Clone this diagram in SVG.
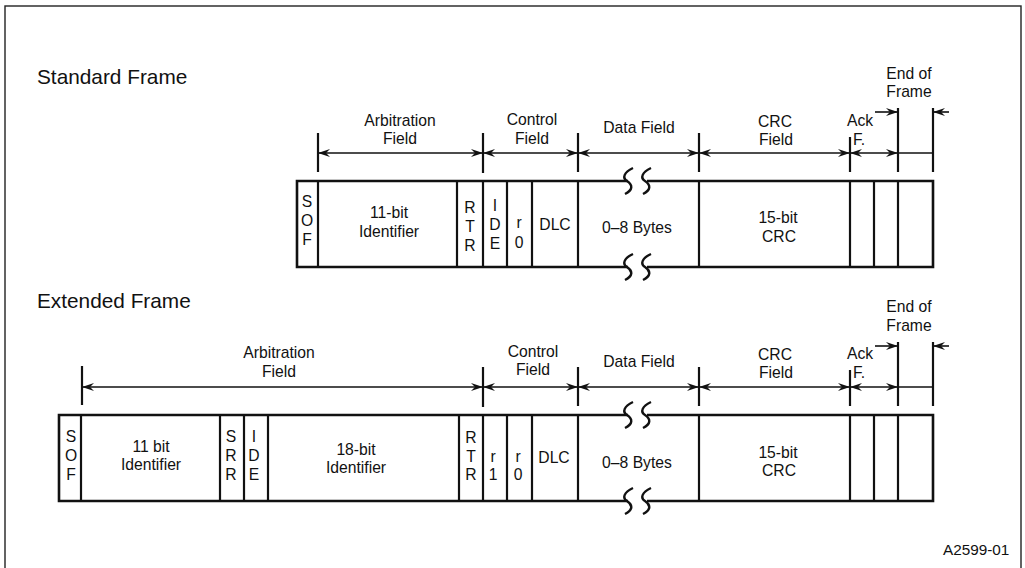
<svg xmlns="http://www.w3.org/2000/svg" width="1025" height="568" viewBox="0 0 1025 568">
<defs>
<style>
text{font-family:"Liberation Sans",Arial,Helvetica,sans-serif;fill:#111;font-size:15.7px;text-anchor:middle}
.title{font-size:20.8px;text-anchor:start}
.st{text-anchor:start}
.box{fill:none;stroke:#111;stroke-width:2.6}
.div{stroke:#111;stroke-width:2.2}
.tick{stroke:#111;stroke-width:2.2}
.arr{stroke:#111;stroke-width:1.6;fill:none}
.brk{stroke:#111;stroke-width:2.4;fill:none}
</style>
<marker id="ah" viewBox="-12 -5 13 10" refX="0" refY="0" markerWidth="13" markerHeight="10" markerUnits="userSpaceOnUse" orient="auto-start-reverse">
<path d="M0,0 L-12,-4 L-8,0 L-12,4 Z" fill="#111"/>
</marker>
</defs>
<rect x="5" y="6" width="1016" height="580" fill="#fff" stroke="#222" stroke-width="1.4"/>
<text id="label-standard" class="title" x="37" y="84">Standard Frame</text>
<text id="label-extended" class="title" x="37" y="308">Extended Frame</text>
<text id="label-fig" class="st" x="943" y="555" style="font-size:15.3px">A2599-01</text>

<g id="connectors">
<line class="tick" x1="318" y1="133" x2="318" y2="172"/>
<line class="tick" x1="483" y1="133" x2="483" y2="173"/>
<line class="tick" x1="578" y1="133" x2="578" y2="172"/>
<line class="tick" x1="699" y1="133" x2="699" y2="172"/>
<line class="tick" x1="850" y1="137" x2="850" y2="172"/>
<line class="tick" x1="898" y1="108" x2="898" y2="172"/>
<line class="tick" x1="933" y1="108" x2="933" y2="172"/>
<line class="arr" x1="318" y1="153" x2="483" y2="153" marker-start="url(#ah)" marker-end="url(#ah)"/>
<line class="arr" x1="483" y1="153" x2="578" y2="153" marker-start="url(#ah)" marker-end="url(#ah)"/>
<line class="arr" x1="578" y1="153" x2="699" y2="153" marker-start="url(#ah)" marker-end="url(#ah)"/>
<line class="arr" x1="699" y1="153" x2="850" y2="153" marker-start="url(#ah)" marker-end="url(#ah)"/>
<line class="arr" x1="850" y1="153" x2="898" y2="153" marker-start="url(#ah)" marker-end="url(#ah)"/>
<line class="arr" x1="898" y1="153" x2="933" y2="153"/>
<line class="arr" x1="875" y1="112" x2="898" y2="112" marker-end="url(#ah)"/>
<line class="arr" x1="949" y1="112" x2="933" y2="112" marker-end="url(#ah)"/>
<line class="tick" x1="82" y1="366" x2="82" y2="405"/>
<line class="tick" x1="483" y1="367" x2="483" y2="407"/>
<line class="tick" x1="578" y1="367" x2="578" y2="406"/>
<line class="tick" x1="699" y1="367" x2="699" y2="406"/>
<line class="tick" x1="850" y1="370" x2="850" y2="406"/>
<line class="tick" x1="898" y1="342" x2="898" y2="406"/>
<line class="tick" x1="933" y1="342" x2="933" y2="406"/>
<line class="arr" x1="82" y1="387" x2="483" y2="387" marker-start="url(#ah)" marker-end="url(#ah)"/>
<line class="arr" x1="483" y1="387" x2="578" y2="387" marker-start="url(#ah)" marker-end="url(#ah)"/>
<line class="arr" x1="578" y1="387" x2="699" y2="387" marker-start="url(#ah)" marker-end="url(#ah)"/>
<line class="arr" x1="699" y1="387" x2="850" y2="387" marker-start="url(#ah)" marker-end="url(#ah)"/>
<line class="arr" x1="850" y1="387" x2="898" y2="387" marker-start="url(#ah)" marker-end="url(#ah)"/>
<line class="arr" x1="898" y1="387" x2="933" y2="387"/>
<line class="arr" x1="875" y1="346" x2="898" y2="346" marker-end="url(#ah)"/>
<line class="arr" x1="949" y1="346" x2="933" y2="346" marker-end="url(#ah)"/>
</g>

<g id="standard-labels">
<text x="400" y="126">Arbitration</text><text x="400" y="144">Field</text>
<text x="532" y="125">Control</text><text x="532" y="144">Field</text>
<text x="639" y="133">Data Field</text>
<text x="775" y="127">CRC</text><text x="776" y="145">Field</text>
<text x="860" y="126">Ack</text><text class="st" x="853" y="145">F.</text>
<text x="909" y="79">End of</text><text x="909" y="97">Frame</text>
</g>

<g id="standard-frame">
<path class="box" d="M628,181 H297 V267 H628 M647,267 H933 V181 H647"/>
<path class="brk" d="M633,168 C624,172 622,178 627,181 C633,185 633,190 625,194"/>
<path class="brk" d="M651,168 C642,172 640,178 645,181 C651,185 651,190 643,194"/>
<path class="brk" d="M633,254 C624,258 622,264 627,267 C633,271 633,276 625,280"/>
<path class="brk" d="M651,254 C642,258 640,264 645,267 C651,271 651,276 643,280"/>
<g id="std-sof"><line class="div" x1="318" y1="181" x2="318" y2="267"/><text x="307" y="207">S</text><text x="307" y="226">O</text><text x="307" y="245">F</text></g>
<g id="std-id"><line class="div" x1="457" y1="181" x2="457" y2="267"/><text x="389" y="218">11-bit</text><text x="389" y="237">Identifier</text></g>
<g id="std-rtr"><line class="div" x1="483" y1="181" x2="483" y2="267"/><text x="470" y="213">R</text><text x="470" y="232">T</text><text x="470" y="251">R</text></g>
<g id="std-ide"><line class="div" x1="507" y1="181" x2="507" y2="267"/><text x="495" y="211">I</text><text x="495" y="230">D</text><text x="495" y="249">E</text></g>
<g id="std-r0"><line class="div" x1="532" y1="181" x2="532" y2="267"/><text x="519" y="228">r</text><text x="519" y="248">0</text></g>
<g id="std-dlc"><line class="div" x1="578" y1="181" x2="578" y2="267"/><text x="555" y="230">DLC</text></g>
<g id="std-data"><line class="div" x1="699" y1="181" x2="699" y2="267"/><text x="637" y="233">0–8 Bytes</text></g>
<g id="std-crc"><line class="div" x1="850" y1="181" x2="850" y2="267"/><text x="778" y="223">15-bit</text><text x="779" y="242">CRC</text></g>
<g id="std-ack1"><line class="div" x1="874" y1="181" x2="874" y2="267"/></g>
<g id="std-ack2"><line class="div" x1="898" y1="181" x2="898" y2="267"/></g>
<g id="std-eof"></g>
</g>

<g id="extended-labels">
<text x="279" y="358">Arbitration</text><text x="279" y="377">Field</text>
<text x="533" y="357">Control</text><text x="533" y="375">Field</text>
<text x="639" y="367">Data Field</text>
<text x="775" y="360">CRC</text><text x="776" y="378">Field</text>
<text x="860" y="359">Ack</text><text class="st" x="853" y="378">F.</text>
<text x="909" y="312">End of</text><text x="909" y="331">Frame</text>
</g>

<g id="extended-frame">
<path class="box" d="M628,415 H59 V501 H628 M647,501 H933 V415 H647"/>
<path class="brk" d="M633,402 C624,406 622,412 627,415 C633,419 633,424 625,428"/>
<path class="brk" d="M651,402 C642,406 640,412 645,415 C651,419 651,424 643,428"/>
<path class="brk" d="M633,488 C624,492 622,498 627,501 C633,505 633,510 625,514"/>
<path class="brk" d="M651,488 C642,492 640,498 645,501 C651,505 651,510 643,514"/>
<g id="ext-sof"><line class="div" x1="81" y1="415" x2="81" y2="501"/><text x="71" y="442">S</text><text x="71" y="461">O</text><text x="71" y="480">F</text></g>
<g id="ext-id11"><line class="div" x1="220" y1="415" x2="220" y2="501"/><text x="151" y="452">11 bit</text><text x="151" y="470">Identifier</text></g>
<g id="ext-srr"><line class="div" x1="244" y1="415" x2="244" y2="501"/><text x="231" y="442">S</text><text x="231" y="461">R</text><text x="231" y="480">R</text></g>
<g id="ext-ide"><line class="div" x1="268" y1="415" x2="268" y2="501"/><text x="254" y="442">I</text><text x="254" y="461">D</text><text x="254" y="480">E</text></g>
<g id="ext-id18"><line class="div" x1="459" y1="415" x2="459" y2="501"/><text x="356" y="455">18-bit</text><text x="356" y="473">Identifier</text></g>
<g id="ext-rtr"><line class="div" x1="483" y1="415" x2="483" y2="501"/><text x="471" y="443">R</text><text x="471" y="462">T</text><text x="471" y="480">R</text></g>
<g id="ext-r1"><line class="div" x1="507" y1="415" x2="507" y2="501"/><text x="493" y="462">r</text><text x="493" y="480">1</text></g>
<g id="ext-r0"><line class="div" x1="532" y1="415" x2="532" y2="501"/><text x="518" y="462">r</text><text x="518" y="480">0</text></g>
<g id="ext-dlc"><line class="div" x1="578" y1="415" x2="578" y2="501"/><text x="554" y="463">DLC</text></g>
<g id="ext-data"><line class="div" x1="699" y1="415" x2="699" y2="501"/><text x="637" y="468">0–8 Bytes</text></g>
<g id="ext-crc"><line class="div" x1="850" y1="415" x2="850" y2="501"/><text x="778" y="458">15-bit</text><text x="779" y="476">CRC</text></g>
<g id="ext-ack1"><line class="div" x1="874" y1="415" x2="874" y2="501"/></g>
<g id="ext-ack2"><line class="div" x1="898" y1="415" x2="898" y2="501"/></g>
<g id="ext-eof"></g>
</g>
</svg>
